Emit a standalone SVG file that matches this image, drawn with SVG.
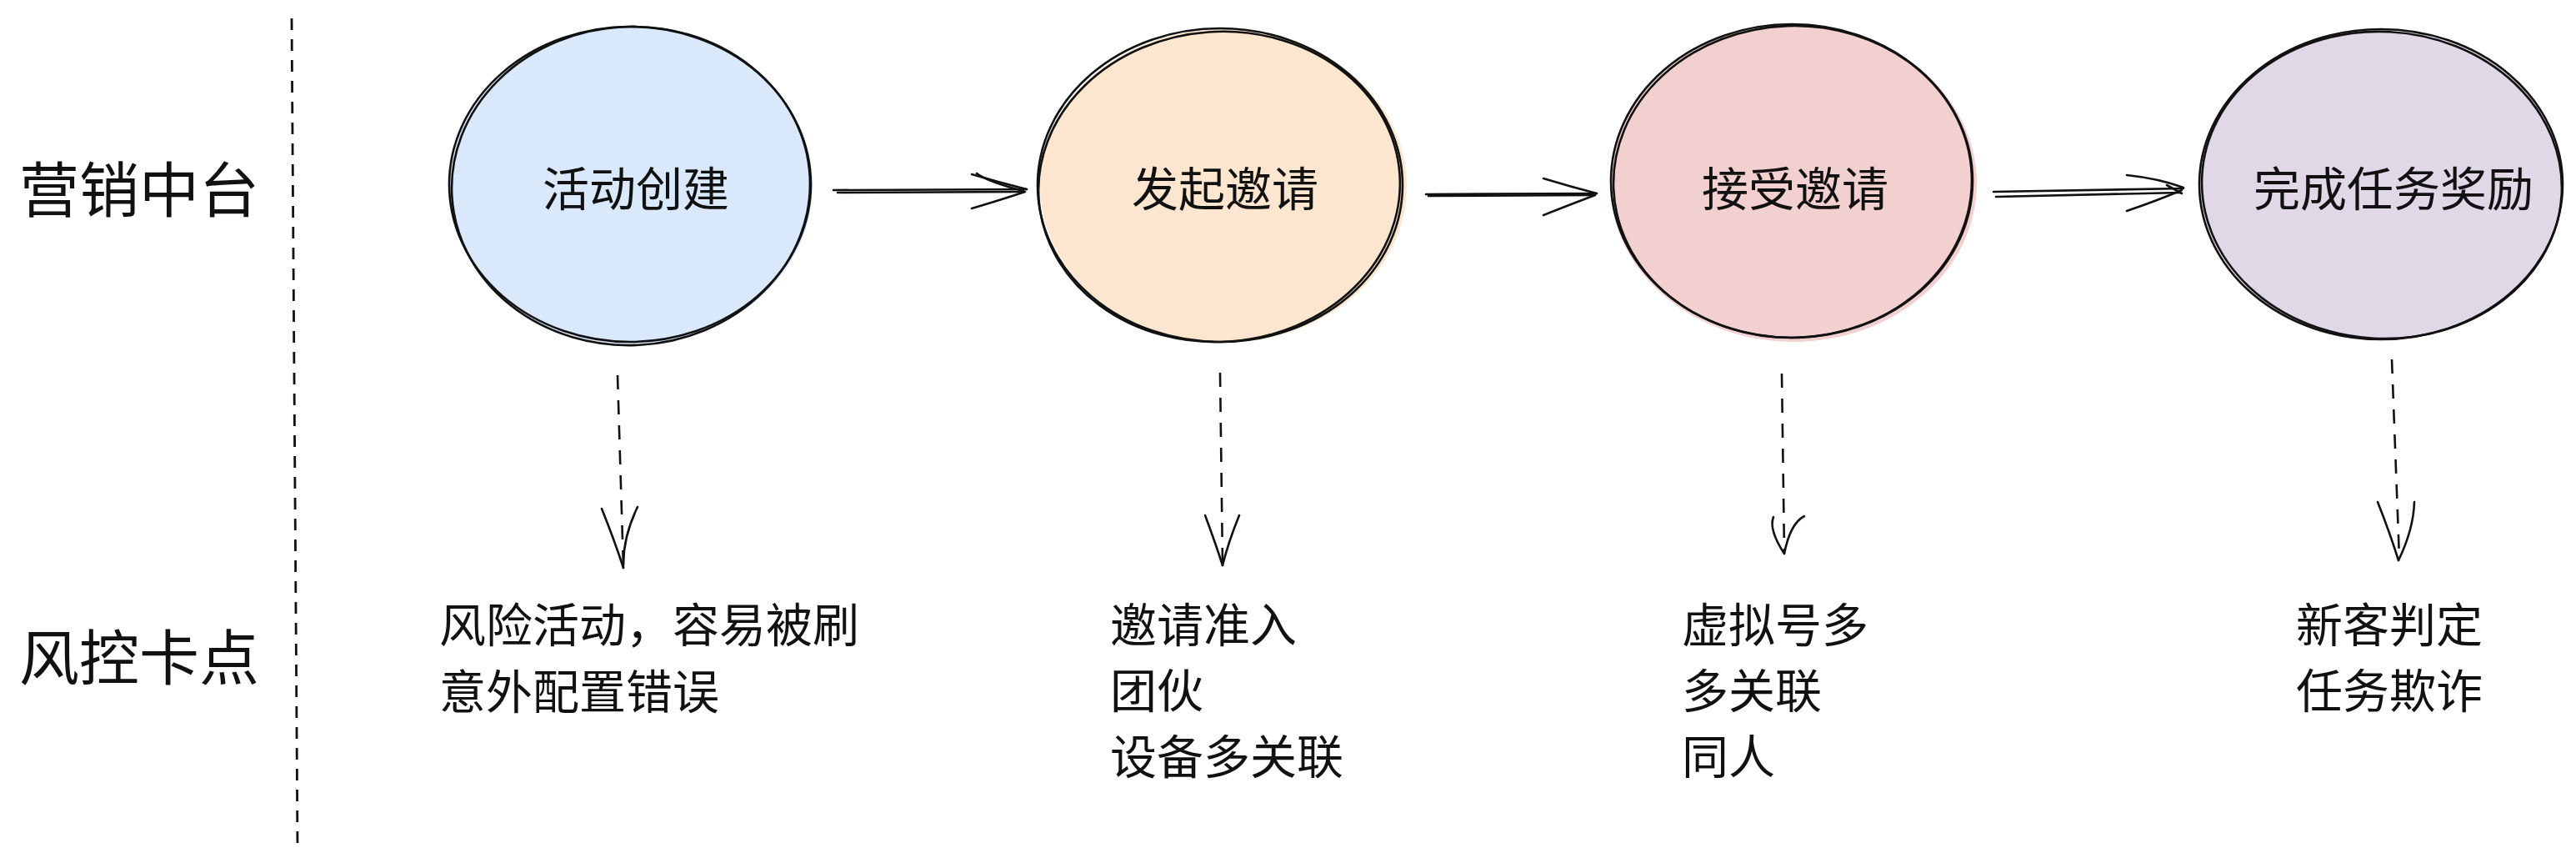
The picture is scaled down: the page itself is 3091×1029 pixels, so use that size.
<svg xmlns="http://www.w3.org/2000/svg" width="3091" height="1029" viewBox="0 0 3091 1029">
  <defs>
    <style>
      .bg { fill: #ffffff; }
      .sk { fill: none; stroke: #111111; stroke-width: 2.6; stroke-linecap: round; stroke-linejoin: round; }
      .dash { fill: none; stroke: #111111; stroke-width: 2.6; stroke-dasharray: 17 13; stroke-linecap: butt; }
      .divider { fill: none; stroke: #111111; stroke-width: 2.8; stroke-dasharray: 14 11; }
      .lane { font-family: "Noto Sans CJK SC", "Noto Sans", sans-serif; font-size: 72px; fill: #111111; }
      .node-label { font-family: "Noto Sans CJK SC", "Noto Sans", sans-serif; font-size: 56px; fill: #111111; text-anchor: middle; }
      .risk { font-family: "Noto Sans CJK SC", "Noto Sans", sans-serif; font-size: 56px; fill: #111111; }
    </style>
  </defs>
  <rect class="bg" x="0" y="0" width="3091" height="1029"/>

  <g id="divider">
    <path class="divider" d="M350,22 L357,1015"/>
  </g>

  <g id="lane-labels">
    <text class="lane" x="23" y="254">营销中台</text>
    <text class="lane" x="23" y="815">风控卡点</text>
  </g>

  <g id="node-create">
    <ellipse cx="757" cy="223" rx="218" ry="190" fill="#dae8fc"/>
    <ellipse class="sk" cx="756" cy="221" rx="217" ry="189"/>
    <ellipse class="sk" cx="757" cy="223" rx="215" ry="191" transform="rotate(-3 757 223)"/>
    <text class="node-label" x="763" y="247">活动创建</text>
  </g>

  <g id="node-invite">
    <ellipse cx="1468" cy="223" rx="220" ry="188" fill="#fce6cf"/>
    <ellipse class="sk" cx="1464" cy="222" rx="219" ry="188"/>
    <ellipse class="sk" cx="1463" cy="224" rx="217" ry="186" transform="rotate(-4 1463 224)"/>
    <text class="node-label" x="1470" y="247">发起邀请</text>
  </g>

  <g id="node-accept">
    <ellipse cx="2152" cy="220" rx="220" ry="190" fill="#f2d0cf"/>
    <ellipse class="sk" cx="2150" cy="217" rx="217" ry="188"/>
    <ellipse class="sk" cx="2151" cy="218" rx="215" ry="187" transform="rotate(-2 2151 218)"/>
    <text class="node-label" x="2154" y="247">接受邀请</text>
  </g>

  <g id="node-reward">
    <ellipse cx="2857" cy="222" rx="217" ry="186" fill="#e0d8e7"/>
    <ellipse class="sk" cx="2857" cy="221" rx="218" ry="186"/>
    <ellipse class="sk" cx="2858" cy="222" rx="216" ry="184" transform="rotate(3 2858 222)"/>
    <text class="node-label" x="2872" y="247">完成任务奖励</text>
  </g>

  <g id="risk-create">
    <text class="risk" x="527" y="770">风险活动，容易被刷</text>
    <text class="risk" x="527" y="850">意外配置错误</text>
  </g>

  <g id="risk-invite">
    <text class="risk" x="1332" y="770">邀请准入</text>
    <text class="risk" x="1332" y="849">团伙</text>
    <text class="risk" x="1332" y="928">设备多关联</text>
  </g>

  <g id="risk-accept">
    <text class="risk" x="2018" y="770">虚拟号多</text>
    <text class="risk" x="2018" y="849">多关联</text>
    <text class="risk" x="2018" y="928">同人</text>
  </g>

  <g id="risk-reward">
    <text class="risk" x="2755" y="770">新客判定</text>
    <text class="risk" x="2755" y="849">任务欺诈</text>
  </g>

  <g id="connectors">
    <!-- create -> invite -->
    <path class="sk" d="M1000,228 L1232,227"/>
    <path class="sk" d="M1005,231 L1229,230"/>
    <path class="sk" d="M1166,209 Q1200,219 1232,227"/>
    <path class="sk" d="M1172,208 Q1185,218 1228,229"/>
    <path class="sk" d="M1166,250 Q1200,240 1230,230"/>
    <!-- invite -> accept -->
    <path class="sk" d="M1711,233 L1916,232"/>
    <path class="sk" d="M1714,235 L1912,234"/>
    <path class="sk" d="M1852,214 Q1885,224 1916,232"/>
    <path class="sk" d="M1852,258 Q1885,245 1914,234"/>
    <!-- accept -> reward -->
    <path class="sk" d="M2392,230 L2620,226"/>
    <path class="sk" d="M2395,236 L2616,231"/>
    <path class="sk" d="M2552,210 Q2590,214 2620,225"/>
    <path class="sk" d="M2552,253 Q2590,240 2618,228"/>
    <path class="sk" d="M2600,222 L2618,232"/>

    <!-- dashed down arrows -->
    <path class="dash" d="M741,450 L748,680"/>
    <path class="sk" d="M722,610 Q738,650 748,681"/>
    <path class="sk" d="M765,608 Q747,645 748,681"/>

    <path class="dash" d="M1464,447 L1467,677"/>
    <path class="sk" d="M1446,618 Q1458,650 1467,678"/>
    <path class="sk" d="M1487,618 Q1474,650 1467,678"/>

    <path class="dash" d="M2138,448 L2141,662"/>
    <path class="sk" d="M2128,620 Q2122,635 2141,664"/>
    <path class="sk" d="M2165,619 Q2148,628 2141,664"/>

    <path class="dash" d="M2870,431 L2879,670"/>
    <path class="sk" d="M2853,602 Q2868,640 2878,672"/>
    <path class="sk" d="M2897,602 Q2896,635 2878,672"/>
  </g>
</svg>
